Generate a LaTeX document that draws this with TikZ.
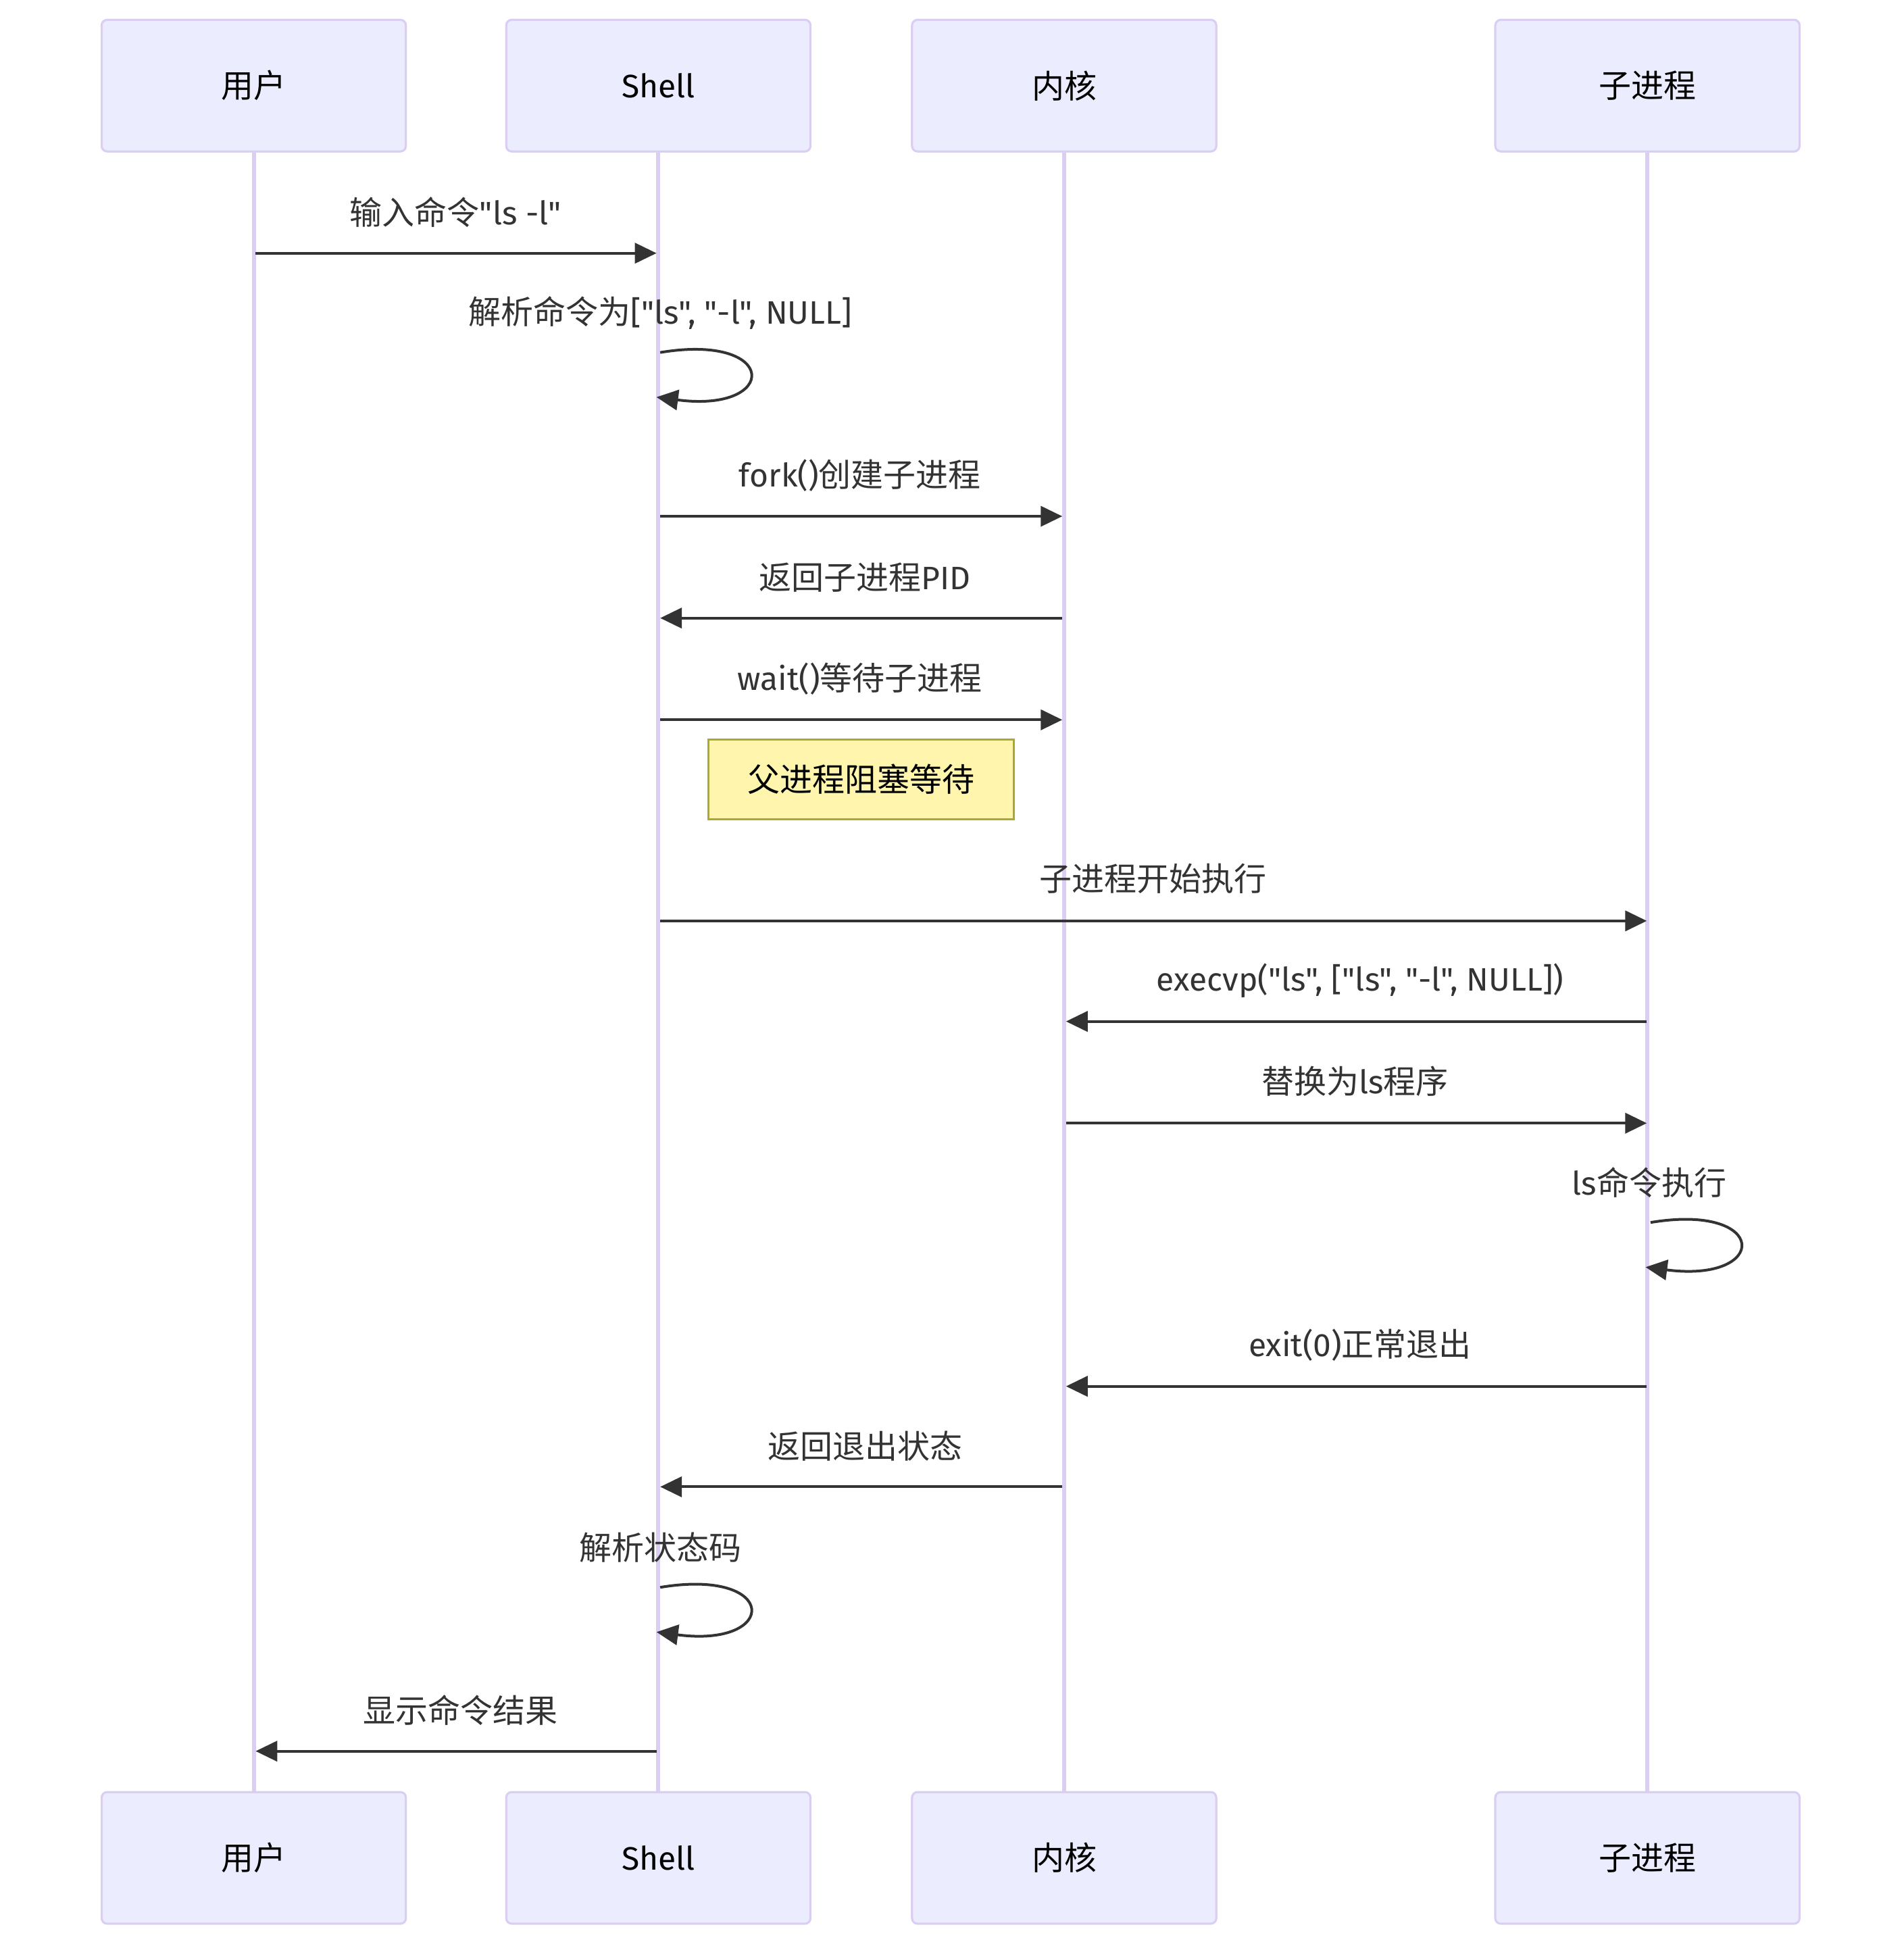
\documentclass[tikz,border=0pt]{standalone}
\usepackage{fontspec}
\setmainfont{Fira Sans}[Ligatures=TeXOff]
\newfontfamily\cjk{Noto Sans CJK SC}
\usetikzlibrary{arrows.meta}
\definecolor{actfill}{HTML}{ECECFF}
\definecolor{actline}{HTML}{DACEF3}
\definecolor{msgcol}{HTML}{333333}
\definecolor{notefill}{HTML}{FFF5AD}
\definecolor{noteline}{HTML}{AAAA33}
\newcommand{\zh}[1]{{\cjk #1}}
\begin{document}
\begin{tikzpicture}[x=0.9182pt,y=-0.9182pt,
  actor/.style={draw=actline, fill=actfill, line width=1.5pt, rounded corners=4pt,
    minimum width=225pt, minimum height=97.3pt, inner sep=0pt,
    font=\fontsize{24}{28}\selectfont, text=black},
  lifeline/.style={draw=actline, line width=3pt},
  msgline/.style={draw=msgcol, line width=2pt, -{Triangle[length=16pt,width=15pt]}},
  msglabel/.style={font=\fontsize{24}{28}\selectfont, text=msgcol, inner sep=0pt},
  notebox/.style={draw=noteline, fill=notefill, line width=1.5pt, minimum width=225.9pt,
    minimum height=58.8pt, inner sep=0pt, font=\fontsize{24}{28}\selectfont, text=black}]
\useasboundingbox[fill=white] (0,0) rectangle (1534,1568);
% actors
\node[actor] (ut) at (204.5,69) {\zh{用户}};
\node[actor] (st) at (530.5,69) {Shell};
\node[actor] (kt) at (857.5,69) {\zh{内核}};
\node[actor] (ct) at (1327.5,69) {\zh{子进程}};
\node[actor] (ub) at (204.5,1497) {\zh{用户}};
\node[actor] (sb) at (530.5,1497) {Shell};
\node[actor] (kb) at (857.5,1497) {\zh{内核}};
\node[actor] (cb) at (1327.5,1497) {\zh{子进程}};
% lifelines
\path[lifeline] (ut.south) -- (ub.north);
\path[lifeline] (st.south) -- (sb.north);
\path[lifeline] (kt.south) -- (kb.north);
\path[lifeline] (ct.south) -- (cb.north);
% redraw boxes on top of lifelines
\node[actor] at (ut) {\zh{用户}};
\node[actor] at (st) {Shell};
\node[actor] at (kt) {\zh{内核}};
\node[actor] at (ct) {\zh{子进程}};
\node[actor] at (ub) {\zh{用户}};
\node[actor] at (sb) {Shell};
\node[actor] at (kb) {\zh{内核}};
\node[actor] at (cb) {\zh{子进程}};
% message 1
\coordinate (a1) at (206,204); \coordinate (b1) at (529,204);
\draw[msgline] (a1) -- (b1);
\node[msglabel] (l1) at (367,171) {\zh{输入命令}"ls -l"};
% self loop 1
\coordinate (a2) at (532,284); \coordinate (b2) at (529,320);
\draw[msgline] (a2) .. controls (628,268) and (628,333) .. (b2);
\node[msglabel] (l2) at (532,252) {\zh{解析命令为}["ls", "-l", NULL]};
% message 3
\coordinate (a3) at (532,416); \coordinate (b3) at (856,416);
\draw[msgline] (a3) -- (b3);
\node[msglabel] (l3) at (693,383) {fork()\zh{创建子进程}};
% message 4
\coordinate (a4) at (856,498); \coordinate (b4) at (532,498);
\draw[msgline] (a4) -- (b4);
\node[msglabel] (l4) at (697,465) {\zh{返回子进程}PID};
% message 5
\coordinate (a5) at (532,580); \coordinate (b5) at (856,580);
\draw[msgline] (a5) -- (b5);
\node[msglabel] (l5) at (693,547) {wait()\zh{等待子进程}};
% note
\node[notebox] (n1) at (694,628) {\zh{父进程阻塞等待}};
% message 7
\coordinate (a7) at (532,742); \coordinate (b7) at (1327,742);
\draw[msgline] (a7) -- (b7);
\node[msglabel] (l7) at (929,708) {\zh{子进程开始执行}};
% message 8
\coordinate (a8) at (1327,823); \coordinate (b8) at (859,823);
\draw[msgline] (a8) -- (b8);
\node[msglabel] (l8) at (1096,790) {execvp("ls", ["ls", "-l", NULL])};
% message 9
\coordinate (a9) at (859,905); \coordinate (b9) at (1327,905);
\draw[msgline] (a9) -- (b9);
\node[msglabel] (l9) at (1092,871) {\zh{替换为}ls\zh{程序}};
% self loop 2
\coordinate (a10) at (1330,985); \coordinate (b10) at (1326,1021);
\draw[msgline] (a10) .. controls (1426,969) and (1426,1034) .. (b10);
\node[msglabel] (l10) at (1329,953) {ls\zh{命令执行}};
% message 11
\coordinate (a11) at (1327,1117); \coordinate (b11) at (859,1117);
\draw[msgline] (a11) -- (b11);
\node[msglabel] (l11) at (1096,1084) {exit(0)\zh{正常退出}};
% message 12
\coordinate (a12) at (856,1198); \coordinate (b12) at (532,1198);
\draw[msgline] (a12) -- (b12);
\node[msglabel] (l12) at (697,1165) {\zh{返回退出状态}};
% self loop 3
\coordinate (a13) at (532,1279); \coordinate (b13) at (529,1315);
\draw[msgline] (a13) .. controls (628,1263) and (628,1328) .. (b13);
\node[msglabel] (l13) at (532,1247) {\zh{解析状态码}};
% message 14
\coordinate (a14) at (529,1411); \coordinate (b14) at (206,1411);
\draw[msgline] (a14) -- (b14);
\node[msglabel] (l14) at (371,1378) {\zh{显示命令结果}};
\end{tikzpicture}
\end{document}
